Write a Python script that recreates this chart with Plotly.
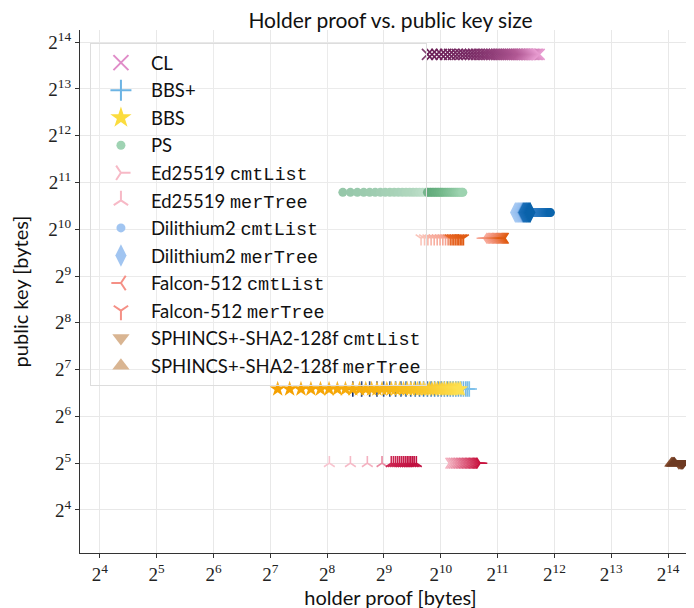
import plotly.graph_objects as go

# ---------------- data (bytes) ----------------
LEGEND_NAMES = [
    "CL", "BBS+", "BBS", "PS",
    "Ed25519 cmtList", "Ed25519 merTree",
    "Dilithium2 cmtList", "Dilithium2 merTree",
    "Falcon-512 cmtList", "Falcon-512 merTree",
    "SPHINCS+-SHA2-128f cmtList", "SPHINCS+-SHA2-128f merTree",
]

# public key sizes [bytes]
PK_CL = 13680
PK_BBS_PLUS = 96
PK_BBS = 96
PK_PS = 1770
PK_ED25519 = 32
PK_DILITHIUM2 = 1312
PK_FALCON512 = 897
PK_SPHINCS = 32

# holder proof sizes [bytes]
CL_x = [870, 920, 975, 1030, 1085, 1140, 1195, 1250, 1305, 1360, 1415, 1470,
        1525, 1580, 1635, 1690, 1745, 1800, 1855, 1910, 1965, 2020, 2075, 2130,
        2185, 2240, 2295, 2350, 2405, 2460, 2515, 2570, 2625, 2680, 2735, 2790,
        2845, 2900, 2955, 3010, 3065, 3120, 3175, 3230, 3285, 3340, 3400]
BBS_PLUS_x = [350, 390, 430, 470, 510, 550, 590, 630, 670, 710, 750, 790, 830,
              870, 910, 950, 990, 1030, 1070, 1110, 1150, 1190, 1230, 1270,
              1310, 1350, 1390, 1420, 1450]
BBS_x = [140, 162, 186, 210, 236, 262, 290, 320, 350, 380, 410, 440, 470, 500,
         530, 560, 590, 620, 650, 680, 710, 740, 770, 800, 830, 860, 890, 920,
         950, 980, 1010, 1040, 1070, 1100, 1130, 1160, 1190, 1220, 1250, 1280,
         1300]
PS_a_x = [310, 340, 370, 400, 430, 460, 490, 520, 550, 580, 610, 640, 670, 700,
          730, 760, 790, 820, 850, 880, 910, 940, 970, 1000, 1030]
PS_b_x = [870, 900, 930, 960, 990, 1020, 1050, 1080, 1110, 1140, 1170, 1200,
          1230, 1260, 1290, 1320, 1340]
ED_CMT_x = [1135, 1160, 1185, 1210, 1235, 1260, 1285, 1310, 1335, 1360, 1385,
            1410, 1435, 1460, 1485, 1510, 1535, 1560, 1585, 1610, 1635, 1655]
ED_MER_x = [263, 340, 418, 500, 560, 575, 590, 605, 620, 635, 650, 665, 680,
            695, 710, 725, 740, 760]
DIL_CMT_x = [2850, 2905, 2960, 3015, 3070, 3125, 3180, 3235, 3290, 3345, 3400,
             3455, 3510, 3565, 3620, 3675, 3730, 3785, 3840, 3900]
DIL_MER_x = [2540, 2570, 2600, 2630, 2660, 2690, 2720, 2750, 2780, 2810, 2840,
             2870, 2900, 2930, 2960, 2990, 3020, 3050]
FAL_CMT_x = [1730, 1760, 1790, 1820, 1850, 1880, 1910, 1940, 1970, 2000, 2030,
             2060, 2090, 2120, 2150, 2180, 2210, 2240]
FAL_MER_x = [805, 840, 875, 910, 945, 980, 1015, 1050, 1085, 1120, 1150,
             1175, 1200, 1225, 1250, 1275, 1300, 1325, 1350]
SPX_CMT_x = [18700, 19000, 19300, 19600]
SPX_MER_x = [17100, 17300, 17500, 17700]

TICK_EXPONENTS = [4, 5, 6, 7, 8, 9, 10, 11, 12, 13, 14]

# ---------------- styling ----------------
SANS = "Lato, 'DejaVu Sans', sans-serif"
SERIF = "'Liberation Serif', 'DejaVu Serif', serif"
MONO = "Liberation Mono"

fig = go.Figure()


def add_series(xs, pk, symbol, size, colorscale, lw=0):
    marker = dict(symbol=symbol, size=size, color=xs, colorscale=colorscale,
                  cmin=min(xs), cmax=max(xs), showscale=False,
                  line=dict(width=lw))
    fig.add_trace(go.Scatter(x=xs, y=[pk] * len(xs), mode="markers",
                             marker=marker, showlegend=False,
                             hoverinfo="x+y"))


add_series(CL_x, PK_CL, "x-thin-open", 11,
           [[0, "#6b1f57"], [0.25, "#7a2c66"], [0.7, "#b25a95"], [1, "#e79bd0"]], lw=1.6)
add_series(BBS_PLUS_x, PK_BBS_PLUS, "cross-thin-open", 11,
           [[0, "#0d2a6e"], [0.35, "#2f6db0"], [1, "#7cc0ea"]], lw=1.6)
add_series(BBS_x, PK_BBS, "star", 12,
           [[0, "#f5a000"], [0.5, "#f9c020"], [1, "#fde050"]])
add_series(PS_a_x, PK_PS, "circle", 9,
           [[0, "#84be9b"], [0.6, "#a5d2b5"], [1, "#c6e4d1"]])
add_series(PS_b_x, PK_PS, "circle", 9,
           [[0, "#5ea878"], [0.3, "#6cb384"], [1, "#9dd3b0"]])
add_series(ED_CMT_x, PK_ED25519, "y-right-open", 9,
           [[0, "#f3b2c0"], [0.4, "#e06a88"], [1, "#c8143f"]], lw=1.6)
add_series(ED_MER_x, PK_ED25519, "y-up-open", 9,
           [[0, "#f8c4cf"], [0.47, "#f2a7b8"], [0.5, "#cf2a56"], [1, "#c01040"]], lw=1.6)
add_series(DIL_CMT_x, PK_DILITHIUM2, "circle", 9,
           [[0, "#4d8fd6"], [1, "#0a64ac"]])
add_series(DIL_MER_x, PK_DILITHIUM2, "diamond-tall", 15,
           [[0, "#a8caf3"], [0.45, "#90baee"], [0.5, "#1f70ba"], [1, "#0a62aa"]])
add_series(FAL_CMT_x, PK_FALCON512, "y-left-open", 9,
           [[0, "#f8aa9a"], [0.35, "#f08a6c"], [1, "#e05a10"]], lw=1.6)
add_series(FAL_MER_x, PK_FALCON512, "y-down-open", 9,
           [[0, "#fabcb0"], [0.56, "#f5a08e"], [0.62, "#e8682a"], [1, "#e05a12"]], lw=1.6)
add_series(SPX_CMT_x, PK_SPHINCS, "triangle-down", 13,
           [[0, "#8a5234"], [1, "#6e3a22"]])
add_series(SPX_MER_x, PK_SPHINCS, "triangle-up", 13,
           [[0, "#8a5234"], [1, "#6e3a22"]])

# legend entries
LEGEND_STYLE = [
    ("x-thin-open", 15, "#e08cc8", 2),
    ("cross-thin-open", 15, "#6cb4e4", 2),
    ("star", 16, "#fbdc3e", 0),
    ("circle", 9, "#9fd3b3", 0),
    ("y-right-open", 12, "#f7b9c6", 2),
    ("y-up-open", 12, "#f7b9c6", 2),
    ("circle", 9, "#a1c5f1", 0),
    ("diamond-tall", 16, "#a1c5f1", 0),
    ("y-left-open", 12, "#f59086", 2),
    ("y-down-open", 12, "#f59086", 2),
    ("triangle-down", 15, "#d9b592", 0),
    ("triangle-up", 15, "#d9b592", 0),
]


def fmt_name(n):
    if n.endswith(" cmtList") or n.endswith(" merTree"):
        head, tail = n.rsplit(" ", 1)
        return f"{head} <span style=\"font-family:{MONO}\">{tail}</span>"
    return n


for name, (sym, sz, col, lw) in zip(LEGEND_NAMES, LEGEND_STYLE):
    fig.add_trace(go.Scatter(
        x=[None], y=[None], mode="markers", name=fmt_name(name),
        legendgroup=name,
        marker=dict(symbol=sym, size=sz, color=col, line=dict(width=lw))))

tickvals = [2 ** e for e in TICK_EXPONENTS]
ticktext = [f"2<sup>{e}</sup>" for e in TICK_EXPONENTS]
L2 = 0.30103

axis_common = dict(
    type="log", tickvals=tickvals, ticktext=ticktext,
    tickfont=dict(family=SERIF, size=19, color="#222"),
    showgrid=True, gridcolor="#e8e8e8", gridwidth=1,
    showline=True, linecolor="#333", linewidth=1.3,
    ticks="outside", ticklen=4, tickcolor="#333", tickwidth=1,
    zeroline=False, automargin=False,
)

fig.update_layout(
    width=694, height=608,
    margin=dict(l=72, r=1, t=22, b=63),
    paper_bgcolor="white", plot_bgcolor="white",
    font=dict(family=SANS, size=18, color="#111"),
    title=dict(text="Holder proof vs. public key size", x=0.5, xref="paper",
               y=1 - 12.5 / 608, yref="container", yanchor="middle",
               font=dict(family=SANS, size=21, color="#111")),
    xaxis=dict(range=[3.65 * L2, 14.58 * L2],
               title=dict(text="holder proof [bytes]", standoff=5,
                          font=dict(family=SANS, size=20)),
               **axis_common),
    yaxis=dict(range=[3.08 * L2, 14.26 * L2],
               title=dict(text="public key [bytes]", standoff=15,
                          font=dict(family=SANS, size=20)),
               **axis_common),
    legend=dict(x=0.016, y=0.975, xanchor="left", yanchor="top",
                bgcolor="rgba(255,255,255,0.15)", bordercolor="#dddddd",
                borderwidth=1, itemsizing="trace", itemwidth=50,
                tracegroupgap=0.5,
                font=dict(family=SANS, size=18.5, color="#111")),
    showlegend=True,
)

fig.write_html("out.html")
